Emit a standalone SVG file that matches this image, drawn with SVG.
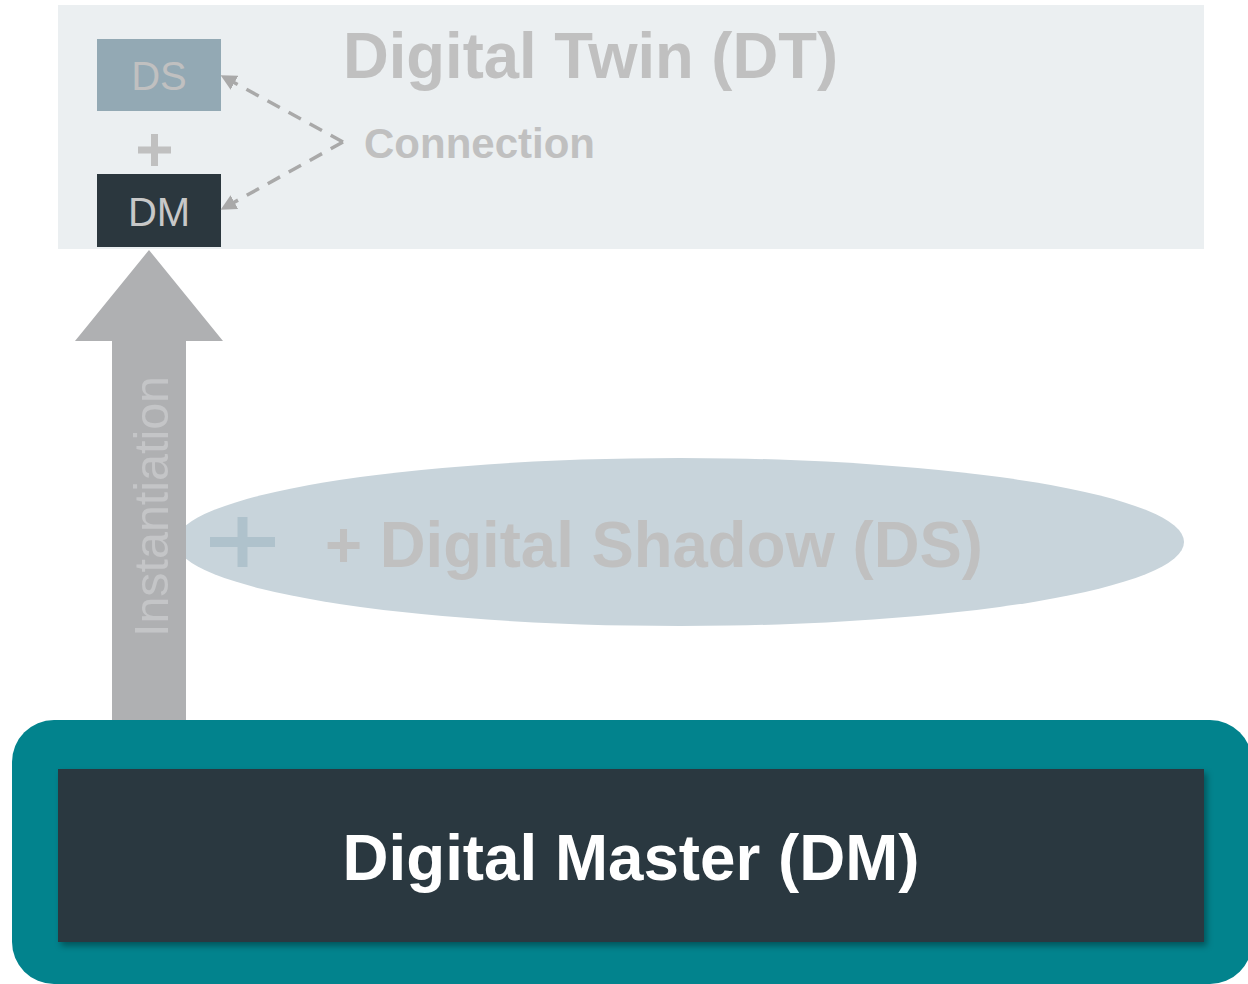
<svg xmlns="http://www.w3.org/2000/svg" width="1248" height="984" viewBox="0 0 1248 984">
  <defs>
    <style>
      .sans { font-family: "Liberation Sans", Arial, sans-serif; }
      .faint { fill: #c0c0c0; }
      .bold { font-weight: bold; }
      .dash { fill: none; stroke: #a9a9a9; stroke-width: 3.5; stroke-dasharray: 14 10; }
    </style>
    <marker id="tip" viewBox="0 0 10 10" refX="9" refY="5" markerWidth="4.5" markerHeight="4.5" orient="auto" markerUnits="strokeWidth">
      <path d="M0,0 L10,5 L0,10 Z" fill="#a9a9a9"/>
    </marker>
    <filter id="drop" x="-5%" y="-10%" width="110%" height="125%">
      <feDropShadow dx="3" dy="4" stdDeviation="3" flood-color="#000" flood-opacity="0.35"/>
    </filter>
  </defs>

  <rect width="1248" height="984" fill="#ffffff"/>

  <!-- Digital Twin panel -->
  <g id="digital-twin">
    <rect x="58" y="5" width="1146" height="244" fill="#ebeff1"/>
    <text class="sans bold faint" x="343" y="78" font-size="64" textLength="495" lengthAdjust="spacingAndGlyphs">Digital Twin (DT)</text>
    <text class="sans bold faint" x="364" y="158" font-size="42" textLength="231" lengthAdjust="spacingAndGlyphs">Connection</text>
  </g>

  <g id="ds-box">
    <rect x="97" y="39" width="124" height="72" fill="#93a9b4"/>
    <text class="sans faint" x="159" y="90" font-size="40" text-anchor="middle">DS</text>
  </g>

  <g id="plus-small">
    <path d="M138,150 H171 M154.5,134 V166" stroke="#c0c0c0" stroke-width="7" fill="none"/>
  </g>

  <g id="dm-box">
    <rect x="97" y="174" width="124" height="73" fill="#2b373e"/>
    <text class="sans" x="159" y="226" font-size="40" text-anchor="middle" fill="#c8c8c8">DM</text>
  </g>

  <!-- Digital Shadow ellipse -->
  <g id="digital-shadow">
    <ellipse cx="680" cy="542" rx="504" ry="84" fill="#c8d4db"/>
    <path d="M210,542 H275 M242.5,517 V567" stroke="#afc2cc" stroke-width="10" fill="none"/>
    <text class="sans bold faint" x="325" y="567" font-size="64" textLength="658" lengthAdjust="spacingAndGlyphs">+ Digital Shadow (DS)</text>
  </g>

  <!-- Instantiation arrow -->
  <g id="instantiation">
    <path d="M112,730 V341 H75 L149,250 L223,341 H186 V730 Z" fill="#afb0b2"/>
    <text class="sans" transform="translate(168,506.5) rotate(-90)" x="0" y="0" font-size="48" text-anchor="middle" fill="#c4c5c7" textLength="261" lengthAdjust="spacingAndGlyphs">Instantiation</text>
  </g>

  <!-- Connectors -->
  <g id="connectors">
    <path class="dash" d="M343,142 L222,76" marker-end="url(#tip)"/>
    <path class="dash" d="M343,142 L222,209" marker-end="url(#tip)"/>
  </g>

  <!-- Digital Master -->
  <g id="digital-master">
    <rect x="12" y="720" width="1240" height="264" rx="42" ry="42" fill="#02838d"/>
    <rect x="58" y="769" width="1146" height="173" fill="#2c3840" filter="url(#drop)"/>
    <text class="sans bold" x="631" y="880" font-size="64" text-anchor="middle" fill="#ffffff" textLength="577" lengthAdjust="spacingAndGlyphs">Digital Master (DM)</text>
  </g>
</svg>
